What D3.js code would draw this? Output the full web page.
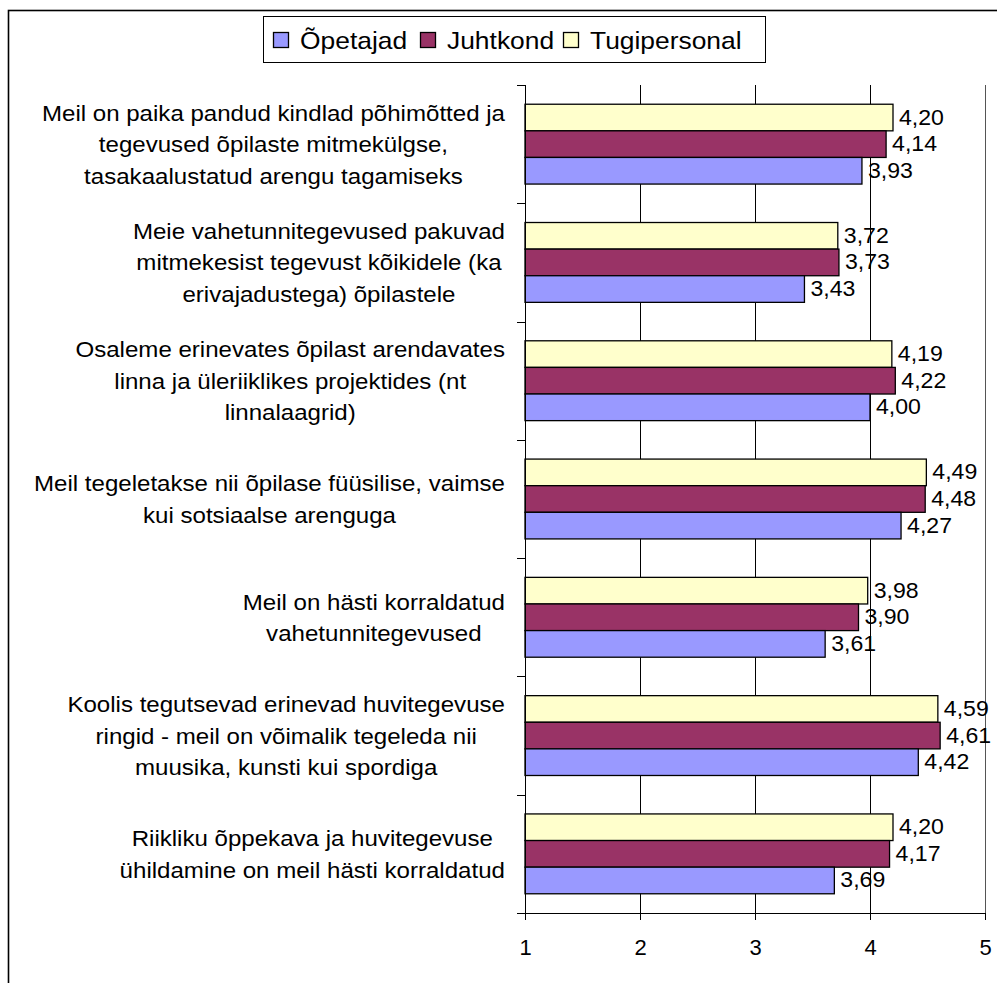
<!DOCTYPE html>
<html><head><meta charset="utf-8">
<script src="https://cdn.jsdelivr.net/npm/d3@7"></script>
<style>body{margin:0;background:#fff}svg{display:block}text{font-family:"Liberation Sans",Arial,sans-serif;fill:#000}</style>
</head><body>
<svg id="c" width="997" height="983"></svg>
<script>
const categories = [
  ["Meil on paika pandud kindlad põhimõtted ja","tegevused õpilaste mitmekülgse,","tasakaalustatud arengu tagamiseks"],
  ["Meie vahetunnitegevused pakuvad","mitmekesist tegevust kõikidele (ka","erivajadustega) õpilastele"],
  ["Osaleme erinevates õpilast arendavates","linna ja üleriiklikes projektides (nt","linnalaagrid)"],
  ["Meil tegeletakse nii õpilase füüsilise, vaimse","kui sotsiaalse arenguga"],
  ["Meil on hästi korraldatud","vahetunnitegevused"],
  ["Koolis tegutsevad erinevad huvitegevuse","ringid - meil on võimalik tegeleda nii","muusika, kunsti kui spordiga"],
  ["Riikliku õppekava ja huvitegevuse","ühildamine on meil hästi korraldatud"]
];
const seriesNames = ["Õpetajad","Juhtkond","Tugipersonal"];
const opetajad     = [3.93, 3.43, 4.00, 4.27, 3.61, 4.42, 3.69];
const juhtkond     = [4.14, 3.73, 4.22, 4.48, 3.90, 4.61, 4.17];
const tugipersonal = [4.20, 3.72, 4.19, 4.49, 3.98, 4.59, 4.20];
const xTicks = [1,2,3,4,5];
const colors = ["#9999FF","#993366","#FFFFCC"];

const svg = d3.select("#c");
function stext(parent, px, py, size, sx, str, anchor){
  return parent.append("text").attr("transform",`translate(${px},${py}) scale(${sx},1)`)
    .attr("font-size",size).attr("text-anchor",anchor||"start").text(str);
}
// outer frame
svg.append("rect").attr("x",8.5).attr("y",10.5).attr("width",1100).attr("height",1100)
  .attr("fill","none").attr("stroke","#000").attr("stroke-width",1.6);

const L=525, R=985, T=85, B=913;
const x = d3.scaleLinear().domain([1,5]).range([L,R]);
const y = d3.scaleBand().domain(d3.range(categories.length)).range([T,B]).paddingInner(0.325).paddingOuter(0.1625);
const order = [2,1,0];
const y1 = d3.scaleBand().domain(order).range([0,y.bandwidth()]);
const values = [opetajad, juhtkond, tugipersonal];

// gridlines
svg.append("g").selectAll("line").data(xTicks.slice(1)).join("line")
  .attr("x1",d=>Math.round(x(d))+0.5).attr("x2",d=>Math.round(x(d))+0.5)
  .attr("y1",T).attr("y2",B).attr("stroke",d=>d===5?"#555":"#000").attr("stroke-width",1);

// bars
const g = svg.append("g");
categories.forEach((c,ci)=>{
  order.forEach(si=>{
    const v = values[si][ci];
    const by = y(ci)+y1(si);
    g.append("rect").attr("x",x(1)).attr("y",by).attr("width",x(v)-x(1)).attr("height",y1.bandwidth())
      .attr("fill",colors[si]).attr("stroke","#000").attr("stroke-width",1.3);
    stext(g, x(v)+6, by+y1.bandwidth()/2+7, 22, 1.05, v.toFixed(2).replace(".",","));
  });
});

// x axis
const xa = svg.append("g").attr("transform",`translate(0,${B})`)
  .call(d3.axisBottom(x).tickValues(xTicks).tickSize(7).tickPadding(19).tickFormat(d=>d));
xa.select(".domain").remove();
xa.selectAll("line").attr("stroke","#000");
xa.selectAll("text").attr("font-size",22).attr("font-family","Liberation Sans, Arial, sans-serif");
svg.append("line").attr("x1",517).attr("x2",R).attr("y1",B+0.5).attr("y2",B+0.5).attr("stroke","#000");
// y axis
svg.append("line").attr("x1",L+0.5).attr("x2",L+0.5).attr("y1",T).attr("y2",B).attr("stroke","#000");
const bounds = d3.range(categories.length+1).map(i=>T+i*(B-T)/categories.length);
svg.append("g").selectAll("line").data(bounds).join("line")
  .attr("x1",517).attr("x2",L).attr("y1",d=>Math.round(d)+0.5).attr("y2",d=>Math.round(d)+0.5).attr("stroke","#000");

// category labels
const lineH = 31.5, csx = 1.07, cfs = 22.5;
categories.forEach((lines,ci)=>{
  const cy = T+(ci+0.5)*(B-T)/categories.length;
  const tg = svg.append("g");
  const ts = lines.map((s,li)=>tg.append("text").attr("font-size",cfs).attr("text-anchor","middle").text(s));
  const maxW = d3.max(ts,t=>t.node().getComputedTextLength())*csx;
  ts.forEach((t,li)=>t.attr("transform",`translate(${505-maxW/2},${cy+(li-(lines.length-1)/2)*lineH+8}) scale(${csx},1)`));
});

// legend
svg.append("rect").attr("x",263.5).attr("y",16.5).attr("width",502).attr("height",46)
  .attr("fill","#fff").attr("stroke","#000").attr("stroke-width",1);
const lx=[273,420,563];
seriesNames.forEach((n,i)=>{
  svg.append("rect").attr("x",lx[i]+0.5).attr("y",32.5).attr("width",15).attr("height",15)
    .attr("fill",colors[i]).attr("stroke","#000").attr("stroke-width",1.3);
  stext(svg, lx[i]+27, 49, 24, 1.1, n);
});
</script>
</body></html>
